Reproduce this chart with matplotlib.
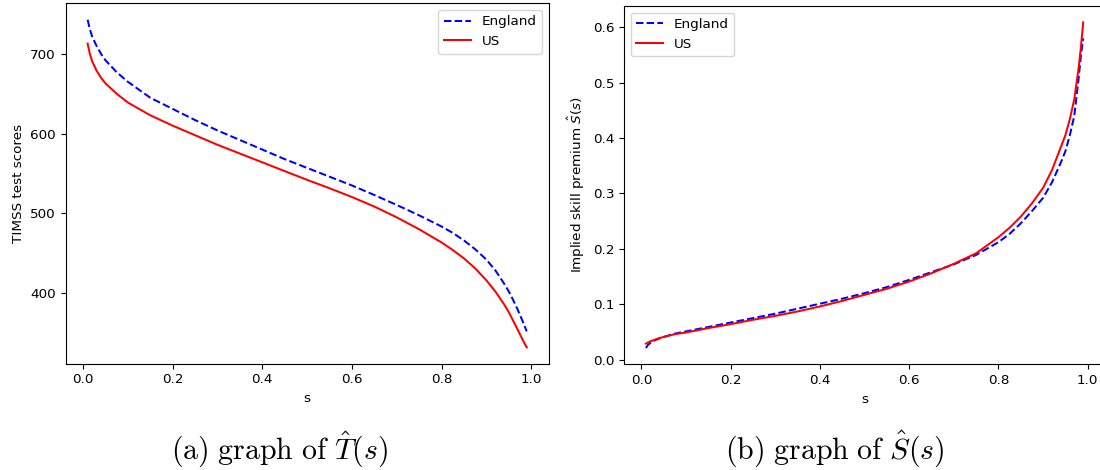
import numpy as np
import matplotlib.pyplot as plt

# percentile grid s
s = [0.01, 0.015, 0.02, 0.03, 0.04, 0.05, 0.075, 0.1, 0.15, 0.2, 0.25, 0.3, 0.35,
     0.4, 0.45, 0.5, 0.55, 0.6, 0.65, 0.7, 0.75, 0.8, 0.825, 0.85, 0.875, 0.9,
     0.92, 0.94, 0.95, 0.96, 0.97, 0.98, 0.985, 0.99]

# T hat (TIMSS test scores)
t_england = [743, 731, 722, 710, 700, 692, 677, 665, 645, 631, 617, 604, 592,
             580, 568, 557, 546, 535, 523, 510.5, 497.5, 483.5, 475.5, 466, 455, 442,
             428.5, 411.5, 402, 391, 379, 366, 359, 352]
t_us = [713, 700, 691, 679, 670, 663, 650, 639, 623, 610, 598, 586, 575,
        564, 553, 542, 531.5, 520.5, 508.5, 495, 480, 463.5, 454, 443.5, 431, 416,
        402, 385.5, 376, 365, 354, 342.5, 337, 332]

# S hat (implied skill premium)
s_england = [0.021, 0.027, 0.030, 0.035, 0.038, 0.041, 0.047, 0.051, 0.059, 0.067, 0.075,
             0.083, 0.092, 0.101, 0.110, 0.120, 0.131, 0.144, 0.158, 0.172, 0.189,
             0.212, 0.227, 0.246, 0.268, 0.292, 0.320, 0.356, 0.376, 0.405, 0.44,
             0.51, 0.55, 0.58]
s_us = [0.029, 0.031, 0.033, 0.036, 0.039, 0.041, 0.046, 0.049, 0.057, 0.064, 0.072,
        0.079, 0.087, 0.096, 0.106, 0.117, 0.128, 0.141, 0.156, 0.173, 0.192,
        0.221, 0.238, 0.258, 0.282, 0.310, 0.342, 0.384, 0.405, 0.434, 0.47,
        0.528, 0.565, 0.609]

plt.rcParams['font.size'] = 9.7
plt.rcParams['mathtext.fontset'] = 'dejavusans'

fig = plt.figure(figsize=(11, 4.7), dpi=100)

ax1 = fig.add_axes([0.0597, 0.2262, 0.4391, 0.7668])
ax1.plot(s, t_england, 'b--', lw=1.45, label='England')
ax1.plot(s, t_us, 'r-', lw=1.45, label='US')
ax1.set_xlabel('s')
ax1.set_ylabel('TIMSS test scores')
ax1.set_yticks([400, 500, 600, 700])
ax1.legend(loc='upper right')

ax2 = fig.add_axes([0.5673, 0.2249, 0.4373, 0.7623])
ax2.plot(s, s_england, 'b--', lw=1.45, label='England')
ax2.plot(s, s_us, 'r-', lw=1.45, label='US')
ax2.set_xlabel('s')
ax2.set_ylabel(r'Implied skill premium $\hat{S}(s)$')
ax2.legend(loc='upper left')

for ax in (ax1, ax2):
    ax.set_xticks([0.0, 0.2, 0.4, 0.6, 0.8, 1.0])

# captions in Computer Modern
cap_kw = dict(ha='center', va='center', fontsize=21.5, math_fontfamily='cm')
fig.text(0.2536, 0.045, r'$\mathrm{(a)\ graph\ of\ }\hat{T}(s)$', **cap_kw)
fig.text(0.7586, 0.045, r'$\mathrm{(b)\ graph\ of\ }\hat{S}(s)$', **cap_kw)

fig.savefig('out.png', dpi=100)
